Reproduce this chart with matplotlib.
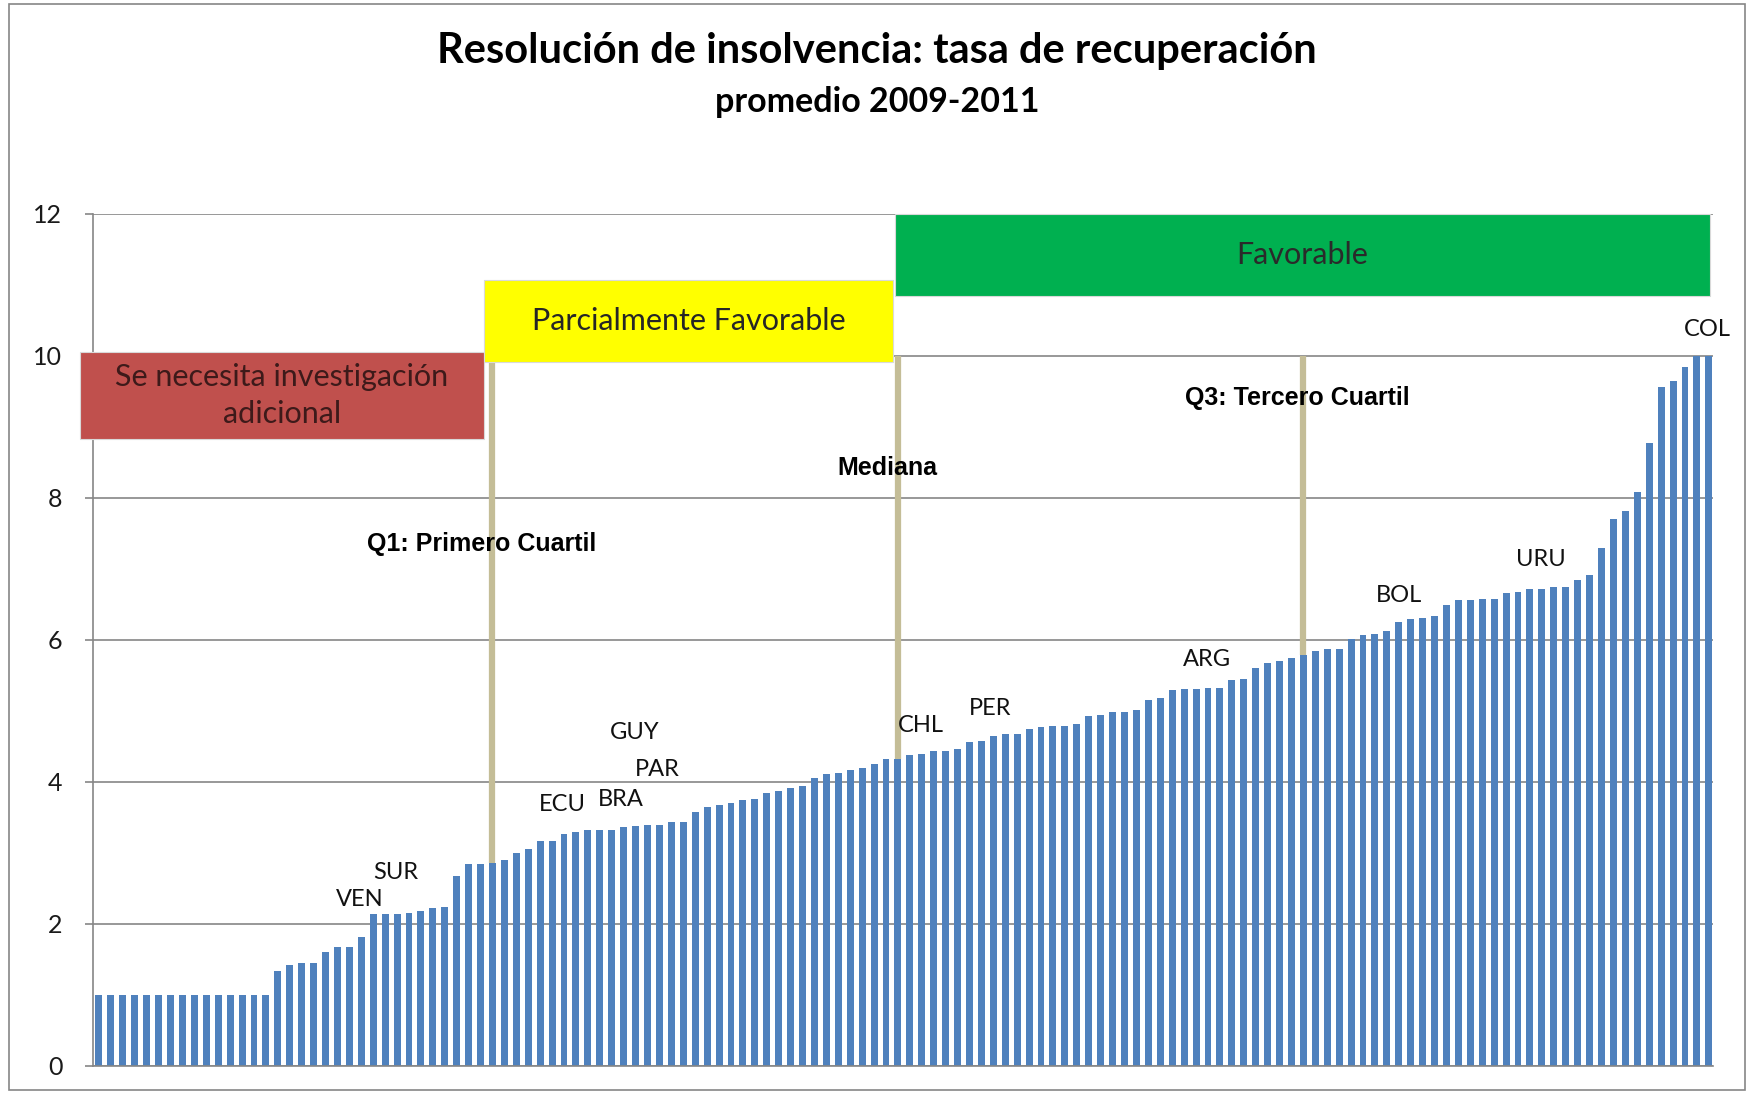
import numpy as np
import matplotlib
matplotlib.use("Agg")
import matplotlib.pyplot as plt
from matplotlib.patches import Rectangle

plt.rcParams['font.family'] = ['Lato', 'DejaVu Sans']

# tasa de recuperacion, paises ordenados (136 barras)
valores = [
    1.00, 1.00, 1.00, 1.00, 1.00, 1.00, 1.00, 1.00, 1.00, 1.00,
    1.00, 1.00, 1.00, 1.00, 1.00, 1.34, 1.42, 1.45, 1.45, 1.61,
    1.68, 1.68, 1.81, 2.14, 2.14, 2.14, 2.16, 2.18, 2.22, 2.24,
    2.68, 2.84, 2.84, 2.86, 2.90, 3.00, 3.06, 3.17, 3.17, 3.27,
    3.29, 3.33, 3.33, 3.33, 3.36, 3.38, 3.40, 3.40, 3.43, 3.43,
    3.58, 3.65, 3.68, 3.70, 3.74, 3.76, 3.85, 3.88, 3.92, 3.95,
    4.06, 4.11, 4.13, 4.17, 4.20, 4.26, 4.33, 4.33, 4.38, 4.40,
    4.43, 4.44, 4.47, 4.56, 4.58, 4.65, 4.68, 4.68, 4.74, 4.77,
    4.79, 4.79, 4.81, 4.93, 4.95, 4.98, 4.99, 5.01, 5.15, 5.18,
    5.29, 5.31, 5.31, 5.33, 5.33, 5.43, 5.45, 5.61, 5.68, 5.70,
    5.74, 5.79, 5.85, 5.88, 5.88, 6.01, 6.07, 6.09, 6.13, 6.26,
    6.29, 6.31, 6.34, 6.49, 6.56, 6.56, 6.58, 6.58, 6.66, 6.68,
    6.72, 6.72, 6.74, 6.74, 6.85, 6.92, 7.29, 7.70, 7.81, 8.08,
    8.78, 9.56, 9.65, 9.85, 10.00, 10.00,
]
# posicion (indice de barra) de los cuartiles
cuartiles = {"Q1": 33, "Mediana": 67, "Q3": 101}
cuartil_textos = ["Q1: Primero Cuartil", "Mediana", "Q3: Tercero Cuartil"]
paises = ["VEN", "SUR", "ECU", "BRA", "PAR", "GUY", "CHL", "PER", "ARG", "BOL", "URU", "COL"]
y_ticks = [0, 2, 4, 6, 8, 10, 12]

# etiquetas de paises: (x, y) en coordenadas de datos
pais_pos = [(21.9, 2.34), (24.9, 2.73), (38.9, 3.68), (43.8, 3.75), (46.8, 4.18),
            (44.9, 4.70), (68.9, 4.79), (74.7, 5.04), (92.9, 5.72), (109.0, 6.63),
            (120.9, 7.13), (134.9, 10.37)]
cuartil_pos = [(32.1, 7.35), (66.1, 8.42), (100.5, 9.41)]

n = len(valores)
x = np.arange(n)

fig = plt.figure(figsize=(17.51, 10.94), dpi=100)
ax = fig.add_axes([0.0531, 0.0256, 0.9252, 0.7788])

ax.bar(x, valores, width=0.58, color="#4F81BD", zorder=2)

ax.set_xlim(-0.5, n - 0.65)
ax.set_ylim(0, 12)
ax.set_yticks(y_ticks)
ax.set_xticks([])
ax.yaxis.grid(True, color="#868686", lw=1.2, zorder=0)
ax.set_axisbelow(True)
for s in ["top", "right"]:
    ax.spines[s].set_visible(False)
for s in ["left", "bottom"]:
    ax.spines[s].set_color("#868686")
    ax.spines[s].set_linewidth(1.2)
ax.tick_params(axis="y", length=6, width=1.2, color="#868686", pad=16, labelsize=18,
               labelcolor="#1a1a1a")

# lineas de cuartiles (desde la barra hasta 10)
tan = "#C4BD97"
for k, idx in cuartiles.items():
    ax.vlines(idx, valores[idx], 10, color=tan, lw=4.5, zorder=3)

q1, med = cuartiles["Q1"], cuartiles["Mediana"]

# cajas de categorias
cajas = [
    (-1.6, q1 - 0.75, 8.83, 10.05, "#C0504D", "Se necesita investigación\nadicional", "#3d1a1a"),
    (q1 - 0.75, med - 0.4, 9.91, 11.07, "#FFFF00", "Parcialmente Favorable", "#262626"),
    (med - 0.25, n - 0.9, 10.85, 12.0, "#00B050", "Favorable", "#2a2a2a"),
]
for x0, x1, y0, y1, fc, txt, tc in cajas:
    ax.add_patch(Rectangle((x0, y0), x1 - x0, y1 - y0, facecolor=fc, edgecolor="#d9d9d9",
                           lw=0.8, zorder=4, clip_on=False))
    ax.text((x0 + x1) / 2, (y0 + y1) / 2, txt, ha="center", va="center", fontsize=22,
            color=tc, zorder=5, linespacing=1.4)

for txt, (px, py) in zip(cuartil_textos, cuartil_pos):
    ax.text(px, py, txt, ha="center", va="center", fontsize=18, fontweight="bold",
            family="Liberation Sans", zorder=5)

for txt, (px, py) in zip(paises, pais_pos):
    ax.text(px, py, txt, ha="center", va="center", fontsize=17, zorder=5, color="#111111")

fig.text(0.501, 0.953, "Resolución de insolvencia: tasa de recuperación", ha="center",
         va="center", fontsize=30, fontweight="bold")
fig.text(0.501, 0.907, "promedio 2009-2011", ha="center", va="center", fontsize=24.5,
         fontweight="bold")

# borde exterior del grafico
fig.patches.append(Rectangle((9 / 1751, 4 / 1094), 1736 / 1751, 1086 / 1094,
                             transform=fig.transFigure, fill=False, edgecolor="#868686",
                             lw=1.2))

fig.savefig("out.png", dpi=100)
